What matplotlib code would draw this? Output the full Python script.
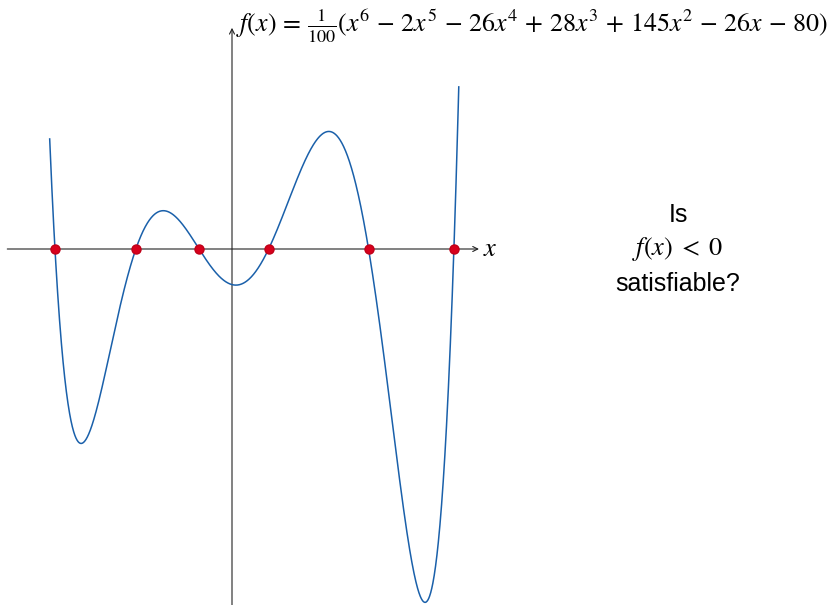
import numpy as np
import matplotlib.pyplot as plt

plt.rcParams['mathtext.fontset'] = 'stix'

# f(x) = (x^6 - 2x^5 - 26x^4 + 28x^3 + 145x^2 - 26x - 80) / 100
coeffs = [1, -2, -26, 28, 145, -26, -80]
scale = 1 / 100
x_start, x_end = -4.097, 5.096

poly = np.poly1d(np.array(coeffs) * scale)
all_roots = np.roots(coeffs)
roots = np.sort(np.real(all_roots[np.isreal(all_roots)]))

xs = np.linspace(x_start, x_end, 1500)
ys = poly(xs)

fig = plt.figure(figsize=(8.3, 6.05), dpi=100)
ax = fig.add_axes([0, 0, 1, 1])
u = 44.5  # pixels per unit
ax.set_xlim(-232 / u, (830 - 232) / u)
ax.set_ylim(-(605 - 249) / u, 249 / u)
ax.axis('off')

arrow = dict(arrowstyle='->', color='#222222', lw=0.8, mutation_scale=9, shrinkA=0, shrinkB=0)
ax.annotate('', xy=(5.55, 0), xytext=(-5.05, 0), arrowprops=arrow)
ax.annotate('', xy=(0, 4.97), xytext=(0, -8.2), arrowprops=arrow)

ax.plot(xs, ys, color='#1a60aa', lw=1.1, zorder=3)
ax.plot(roots, np.zeros_like(roots), 'o', color='#d8001c', ms=6.5, mec='#c00018', zorder=4)

ax.text(5.63, 0, r'$x$', fontsize=19, va='center', ha='left')
b = r'\,'
formula = (r'$f(x)' + b + '=' + b + r'\frac{1}{100}(x^6' + b + '-' + b + '2x^5' + b + '-' + b
           + '26x^4' + b + '+' + b + '28x^3' + b + '+' + b + '145x^2' + b + '-' + b + '26x'
           + b + '-' + b + '80)$')
ax.text(0.1, 5.0, formula, fontsize=18.6, va='center', ha='left')

cx = (678 - 232) / u
ax.text(cx, 0.77, 'Is', fontsize=18, ha='center', va='center', family='Liberation Sans')
ax.text(cx, 0, r'$f(x)\;<\;0$', fontsize=19, ha='center', va='center')
ax.text(cx, -0.79, 'satisfiable?', fontsize=18, ha='center', va='center', family='Liberation Sans')

fig.savefig('out.png', dpi=100)
